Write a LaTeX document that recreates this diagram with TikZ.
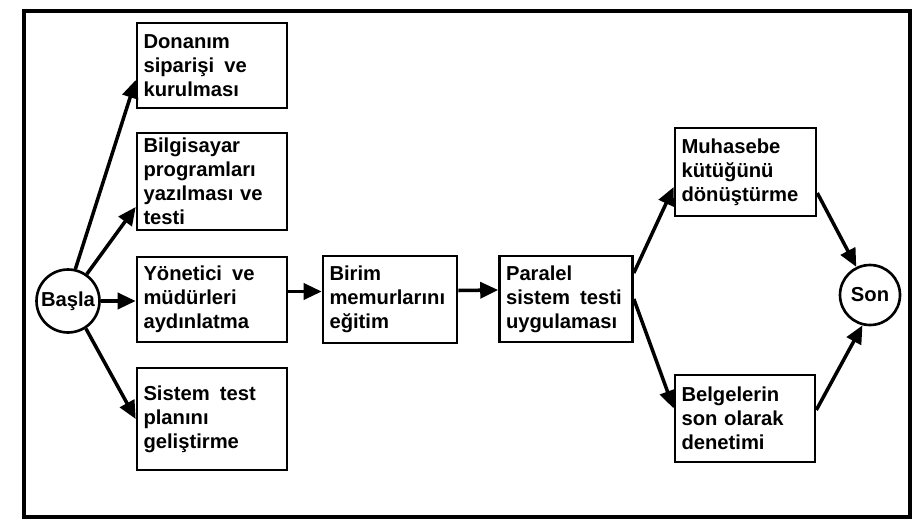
\documentclass[tikz,border=0pt]{standalone}
\usepackage{fontspec}
\setmainfont{Liberation Sans}
\usetikzlibrary{arrows.meta}

\begin{document}
\begin{tikzpicture}[
  x=0.02cm, y=-0.02cm,
  font=\bfseries\fontsize{11.5}{13.7}\selectfont,
  box/.style={draw, line width=1.5pt, align=left, inner xsep=0.13cm, inner ysep=0pt},
  ring/.style={draw, circle, line width=1.5pt, inner sep=0pt, minimum size=1.26cm},
  arr/.style={line width=2pt, -{Triangle[length=0.36cm, width=0.32cm]}},
]
  \useasboundingbox (0,0) rectangle (918,530);
  \draw[line width=2pt] (24,11) rectangle (910,517);

  % start and end
  \node[ring] (basla) at (68,301) {Başla};
  \node[ring, minimum size=1.2cm] (son) at (870,295) {Son};

  % first column
  \node[box, text width=2.74cm, minimum height=1.7cm] (donanim) at (212,65.5)
    {Donanım\\ siparişi\enspace ve\\ kurulması};
  \node[box, text width=2.74cm, minimum height=1.94cm] (program) at (212,181.5)
    {Bilgisayar\\ programları\\ yazılması ve\\ testi};
  \node[box, text width=2.74cm, minimum height=1.7cm] (yonetici) at (212,299.5)
    {Yönetici\enspace ve\\ müdürleri\\ aydınlatma};
  \node[box, text width=2.74cm, minimum height=2.04cm] (plan) at (212,419)
    {Sistem\enspace test\\ planını\\ geliştirme};

  % middle
  \node[box, text width=2.42cm, minimum height=1.74cm] (egitim) at (390,299.5)
    {Birim\\ memurlarını\\ eğitim};
  \node[box, text width=2.40cm, minimum height=1.72cm] (paralel) at (566,299)
    {Paralel\\ sistem\enspace testi\\ uygulaması};

  % last column
  \node[box, text width=2.56cm, minimum height=1.76cm] (kutuk) at (745.5,172)
    {Muhasebe\\ kütüğünü\\ dönüştürme};
  \node[box, text width=2.54cm, minimum height=1.74cm] (denetim) at (745,418.5)
    {Belgelerin\\ son olarak\\ denetimi};

  \draw[arr] (basla.77) -- ([yshift=-0.29cm]donanim.west);
  \draw[arr] (basla.55) -- ([yshift=-0.51cm]program.west);
  \draw[arr] (basla.east) -- (yonetici.west |- basla.east);
  \draw[arr] (basla.-57) -- (plan.west);
  \draw[arr] ([yshift=0.16cm]yonetici.east) -- ([yshift=0.16cm]egitim.west);
  \draw[arr] ([yshift=0.18cm]egitim.east) -- ([yshift=0.18cm]paralel.west);
  \draw[arr] ([yshift=0.52cm]paralel.east) -- ([yshift=-0.3cm]kutuk.west);
  \draw[arr] (paralel.east) -- ([yshift=0.2cm]denetim.west);
  \draw[arr] ([yshift=-0.42cm]kutuk.east) -- (son.116);
  \draw[arr] ([yshift=0.17cm]denetim.east) -- (son.-104);
\end{tikzpicture}
\end{document}
